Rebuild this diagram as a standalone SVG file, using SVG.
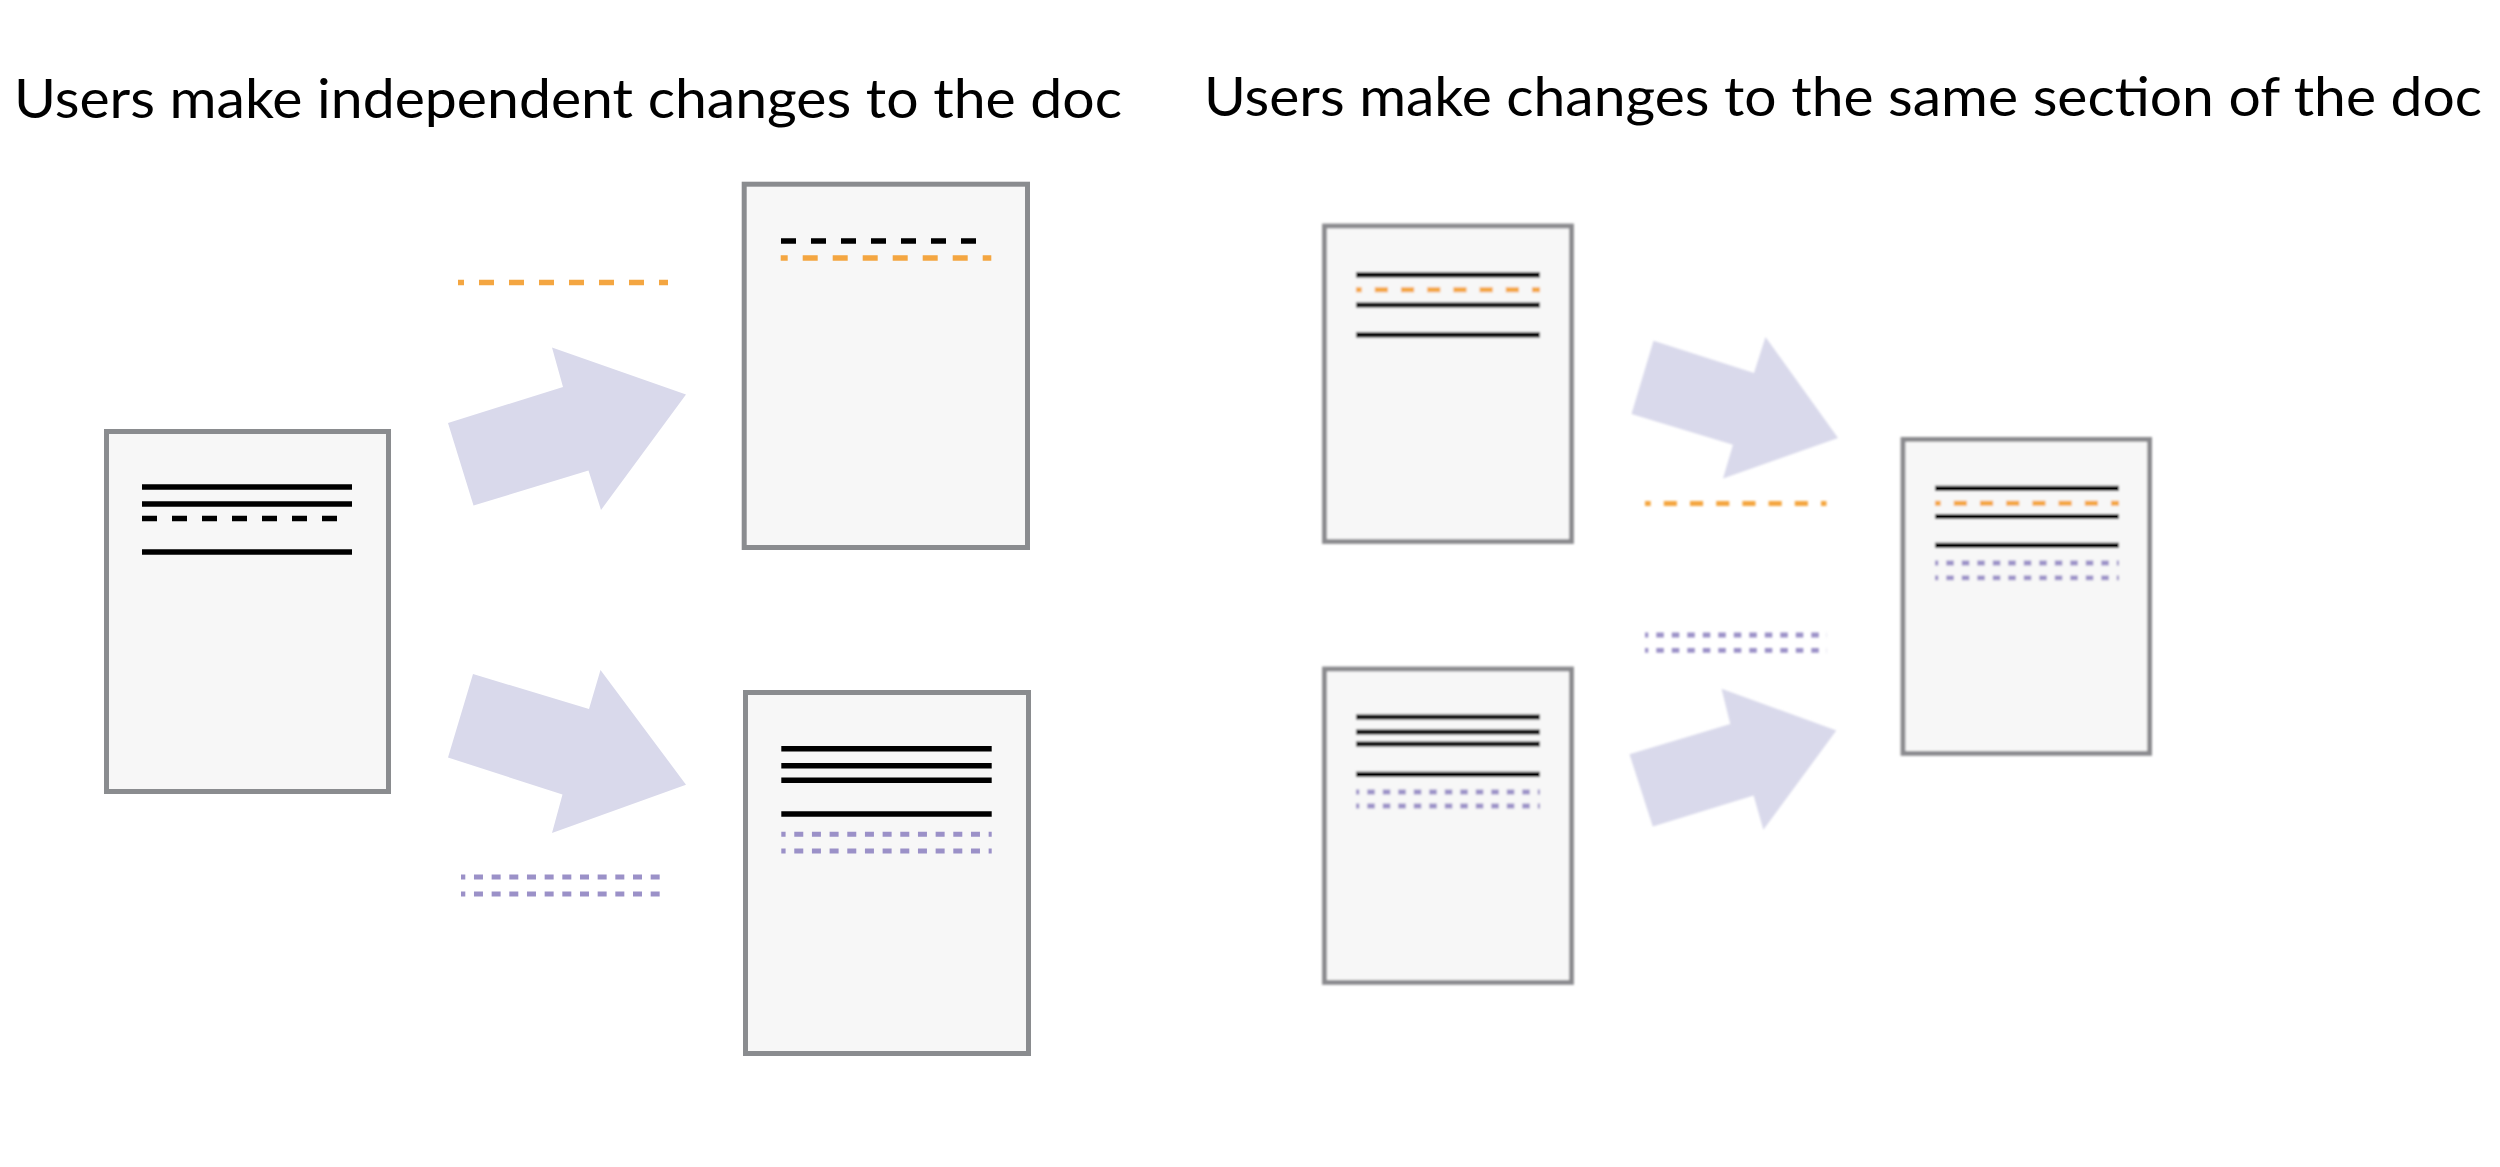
<svg xmlns="http://www.w3.org/2000/svg" width="2500" height="1167" viewBox="0 0 2500 1167">
  <defs>
    <filter id="soft" filterUnits="userSpaceOnUse" x="0" y="0" width="2500" height="1167">
      <feGaussianBlur stdDeviation="1.1"/>
    </filter>
  </defs>
  <style>
    .title { font-family: "Lato", "Open Sans", "Noto Sans", sans-serif; font-size: 55px; fill: #000000; }
    .doc { fill: #f7f7f7; stroke: #8a8c8f; stroke-width: 5; }
    .docR { fill: #f7f7f7; stroke: #8a8a8e; stroke-width: 4.8; }
    .ln { stroke: #000000; stroke-width: 5.5; fill: none; }
    .lnR { stroke: #000000; stroke-width: 5.2; fill: none; }
    .blk-dash { stroke: #000000; stroke-width: 5.5; stroke-dasharray: 15 15; fill: none; }
    .org { stroke: #f4a641; stroke-width: 5.5; stroke-dasharray: 15 15; fill: none; }
    .pur { stroke: #9b91c8; stroke-width: 5; stroke-dasharray: 9 8.67; stroke-dashoffset: 4.7; fill: none; }
    .orgR { stroke: #f4a641; stroke-width: 5; stroke-dasharray: 13.1 13.1; stroke-dashoffset: 7.4; fill: none; }
    .purR { stroke: #9b91c8; stroke-width: 4.8; stroke-dasharray: 7.5 8; stroke-dashoffset: 4.2; fill: none; }
    .arrow { fill: #d9d9eb; stroke: none; }
  </style>

  <g id="titles">
    <text class="title" x="14" y="118" textLength="1108" lengthAdjust="spacingAndGlyphs">Users make independent changes to the doc</text>
    <text class="title" x="1204" y="116" textLength="1278" lengthAdjust="spacingAndGlyphs">Users make changes to the same section of the doc</text>
  </g>

  <!-- Left panel -->
  <g id="doc-original">
    <rect class="doc" x="106.5" y="431.5" width="282" height="360"/>
    <line class="ln" x1="142" y1="487" x2="352" y2="487"/>
    <line class="ln" x1="142" y1="504" x2="352" y2="504"/>
    <line class="blk-dash" x1="142" y1="518.6" x2="337" y2="518.6"/>
    <line class="ln" x1="142" y1="552" x2="352" y2="552"/>
  </g>

  <g id="change-orange-left">
    <line class="org" style="stroke-dashoffset:9" x1="458" y1="282.5" x2="668" y2="282.5"/>
  </g>

  <g id="change-purple-left">
    <line class="pur" x1="461" y1="877" x2="668" y2="877"/>
    <line class="pur" x1="461" y1="894" x2="668" y2="894"/>
  </g>

  <g id="doc-user1-left">
    <rect class="doc" x="744.2" y="184.2" width="283.3" height="363.3"/>
    <line class="blk-dash" x1="781" y1="241" x2="977" y2="241"/>
    <line class="org" style="stroke-dashoffset:8" x1="780.7" y1="258" x2="991.3" y2="258"/>
  </g>

  <g id="doc-user2-left">
    <rect class="doc" x="745.5" y="692.5" width="283" height="361"/>
    <line class="ln" x1="781.3" y1="748.7" x2="991.7" y2="748.7"/>
    <line class="ln" x1="781.3" y1="765.7" x2="991.7" y2="765.7"/>
    <line class="ln" x1="781.3" y1="780.3" x2="991.7" y2="780.3"/>
    <line class="ln" x1="781.3" y1="814" x2="991.7" y2="814"/>
    <line class="pur" x1="781.3" y1="834.3" x2="991.7" y2="834.3"/>
    <line class="pur" x1="781.3" y1="851" x2="991.7" y2="851"/>
  </g>

  <!-- Right panel -->
  <g id="doc-user1-right" filter="url(#soft)">
    <rect class="docR" x="1324.5" y="226" width="247" height="315.5"/>
    <line class="lnR" x1="1356" y1="274.8" x2="1540" y2="274.8"/>
    <line class="orgR" x1="1356" y1="289.7" x2="1540" y2="289.7"/>
    <line class="lnR" x1="1356" y1="305" x2="1540" y2="305"/>
    <line class="lnR" x1="1356" y1="334.9" x2="1540" y2="334.9"/>
  </g>

  <g id="doc-user2-right" filter="url(#soft)">
    <rect class="docR" x="1324.5" y="669" width="247" height="313.4"/>
    <line class="lnR" x1="1356" y1="717" x2="1540" y2="717"/>
    <line class="lnR" x1="1356" y1="732" x2="1540" y2="732"/>
    <line class="lnR" x1="1356" y1="744" x2="1540" y2="744"/>
    <line class="lnR" x1="1356" y1="774.3" x2="1540" y2="774.3"/>
    <line class="purR" x1="1356" y1="792" x2="1540" y2="792"/>
    <line class="purR" x1="1356" y1="806" x2="1540" y2="806"/>
  </g>

  <g id="change-orange-right" filter="url(#soft)">
    <line class="orgR" x1="1645" y1="503.6" x2="1826.5" y2="503.6"/>
  </g>

  <g id="change-purple-right" filter="url(#soft)">
    <line class="purR" x1="1645" y1="635" x2="1827" y2="635"/>
    <line class="purR" x1="1645" y1="650.3" x2="1827" y2="650.3"/>
  </g>

  <g id="doc-merged-right" filter="url(#soft)">
    <rect class="docR" x="1903" y="439.4" width="246.6" height="314"/>
    <line class="lnR" x1="1935" y1="488.3" x2="2119" y2="488.3"/>
    <line class="orgR" x1="1935" y1="503.3" x2="2119" y2="503.3"/>
    <line class="lnR" x1="1935" y1="516.5" x2="2119" y2="516.5"/>
    <line class="lnR" x1="1935" y1="545.3" x2="2119" y2="545.3"/>
    <line class="purR" x1="1935" y1="563" x2="2119" y2="563"/>
    <line class="purR" x1="1935" y1="577.8" x2="2119" y2="577.8"/>
  </g>

  <g id="connectors">
    <polygon class="arrow" points="448,423 563,387 552,347.5 686,394.5 601,510 588.5,470.5 473.5,505.5"/>
    <polygon class="arrow" points="473,674 589,709 600.5,670 686,784.7 552,833 562.5,794.5 448,757.5"/>
    <polygon class="arrow" filter="url(#soft)" points="1653.5,340.8 1754,373 1765.5,337 1838,438 1723,478.6 1733,444.7 1631.5,414"/>
    <polygon class="arrow" filter="url(#soft)" points="1721.5,688.7 1836.3,730.6 1763.4,829.7 1753.6,795.5 1652.8,826.4 1629.5,754.2 1730.3,724"/>
  </g>
</svg>
